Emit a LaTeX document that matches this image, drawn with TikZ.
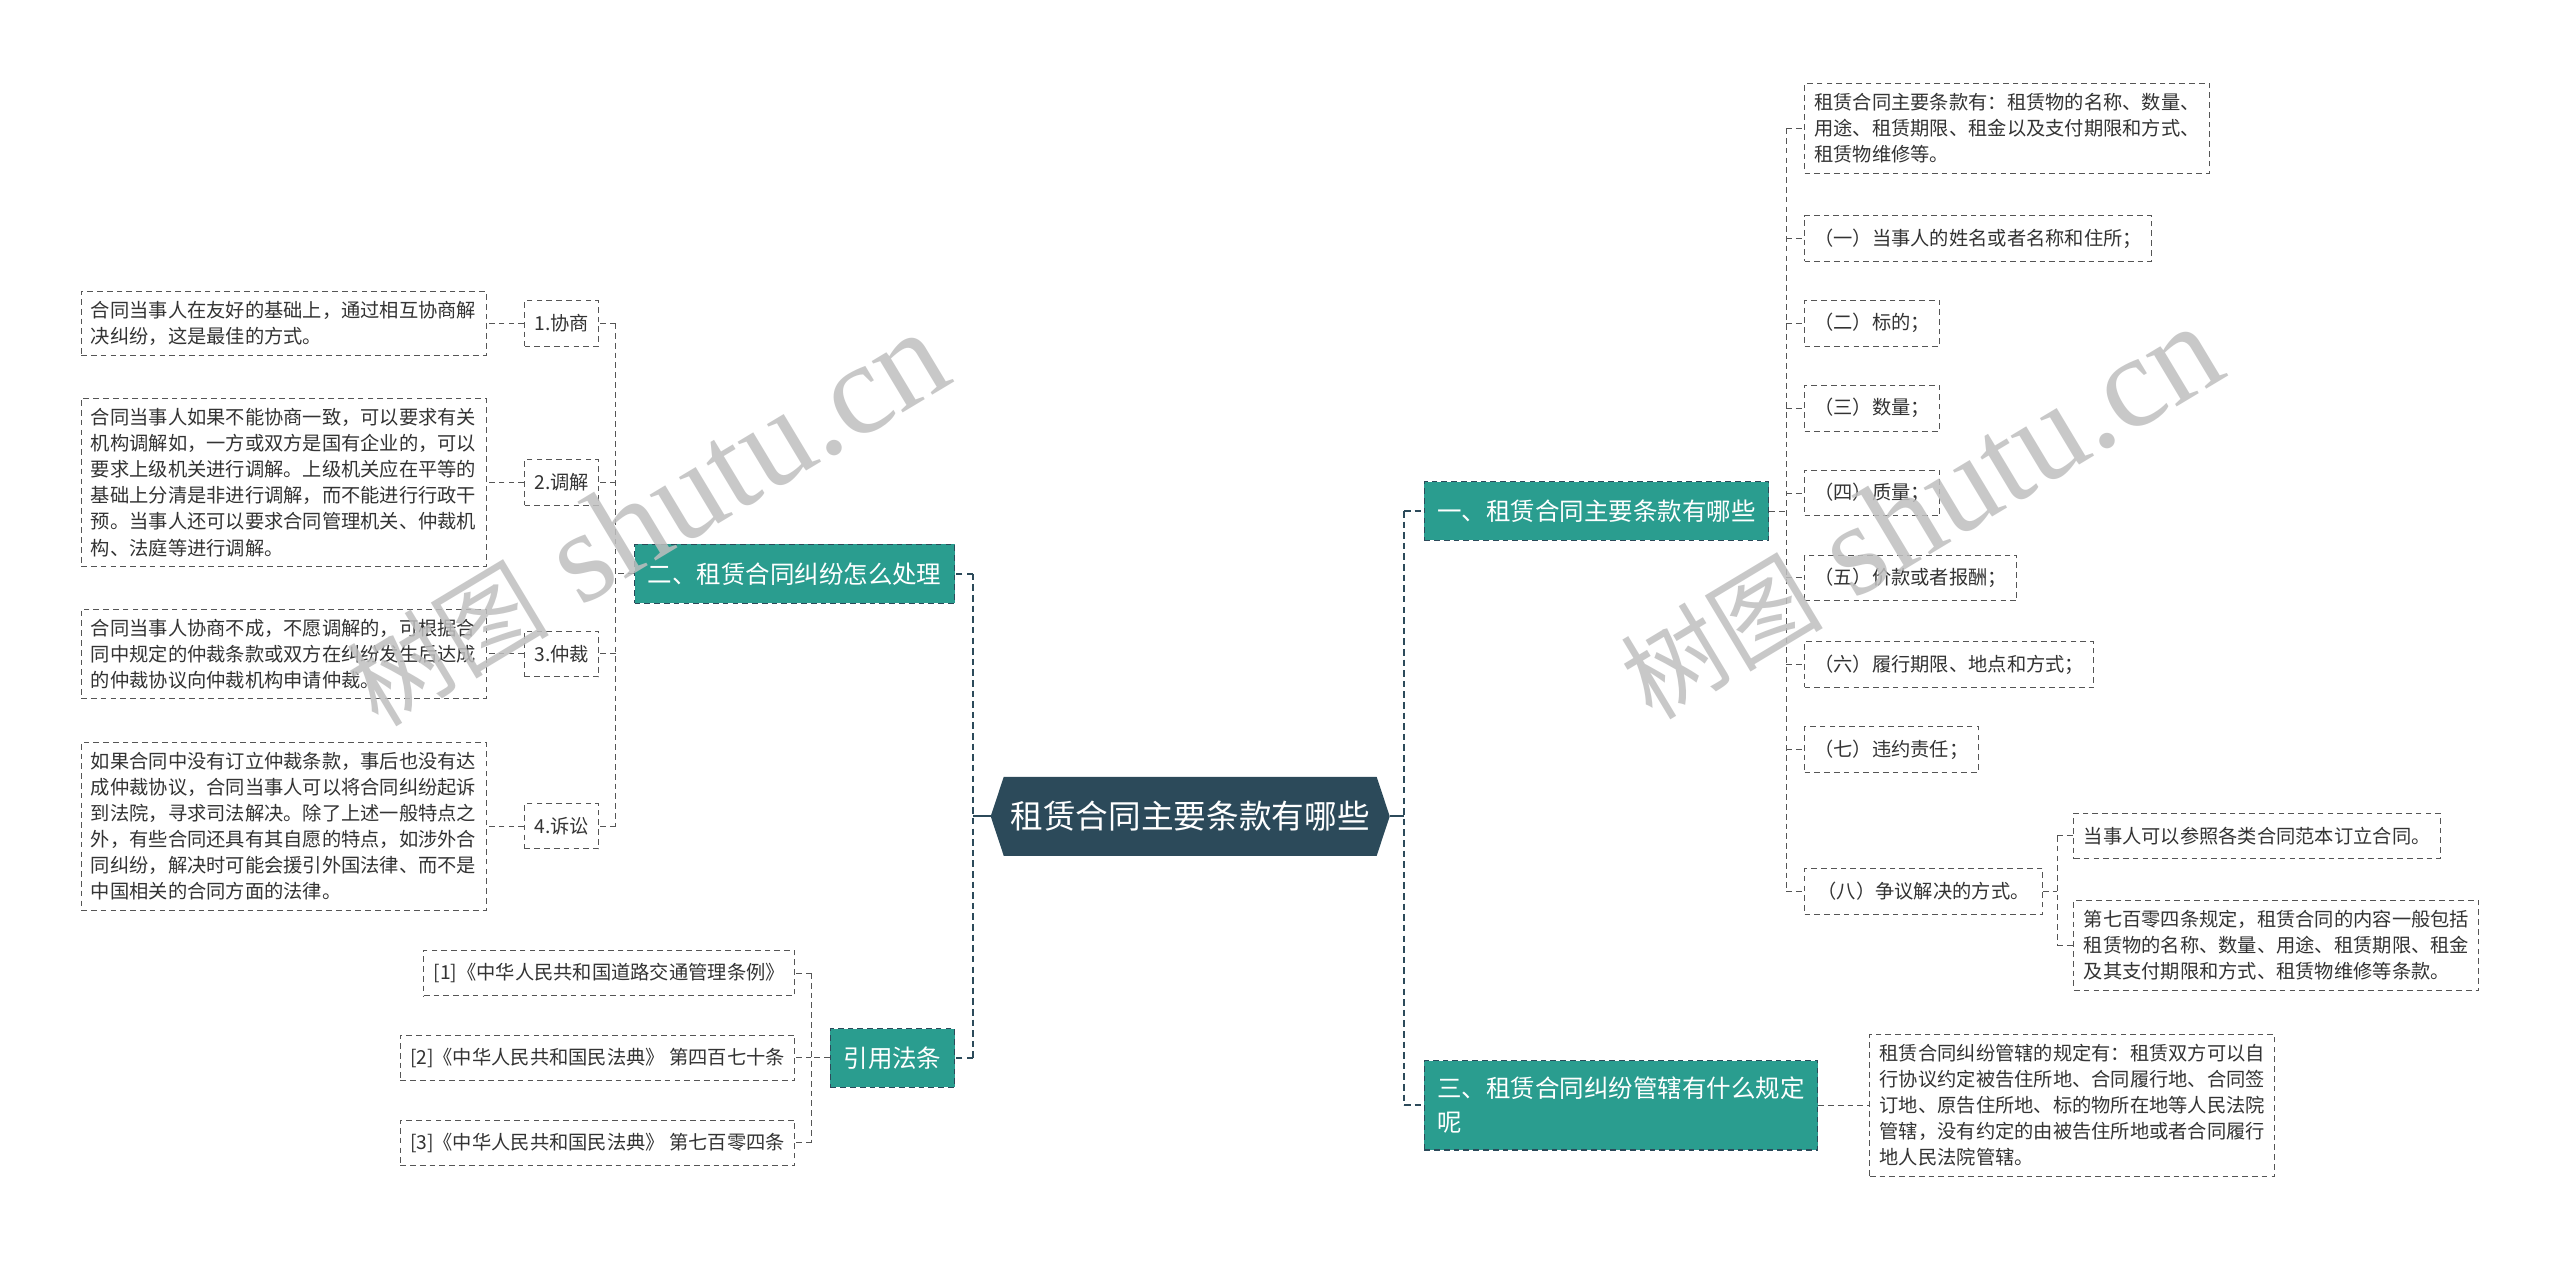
\documentclass[tikz,border=0pt]{standalone}
\usepackage{fontspec}
\setmainfont{Noto Sans CJK SC}
\newfontfamily\wmserif{Liberation Serif}
\usetikzlibrary{backgrounds}
\definecolor{hexc}{HTML}{2C4A5A}
\definecolor{tealc}{HTML}{2A9D8F}
\definecolor{linec}{HTML}{555555}
\definecolor{textc}{HTML}{333333}
\begin{document}
\begin{tikzpicture}[x=1pt,y=-1pt,
  dsh/.style={dash pattern=on 3.5pt off 2.5pt},
  leaf/.style={draw=linec, dsh, line width=0.6pt, fill=white, text=textc,
    font=\fontsize{11.8}{16}\selectfont, inner xsep=6pt, inner ysep=6pt,
    minimum height=28pt, align=left},
  branch/.style={draw=hexc, dsh, line width=0.7pt, fill=tealc, text=white,
    font=\fontsize{15}{21}\selectfont, inner xsep=8pt, minimum height=36pt, align=left},
  hexn/.style={text=white, font=\fontsize{20}{24}\selectfont,
    minimum width=244pt, minimum height=48pt, inner sep=0pt},
  conn/.style={draw=linec, dsh, line width=0.6pt},
  trunk/.style={draw=hexc, dash pattern=on 4pt off 2.5pt, line width=1.2pt},
  wmark/.style={rotate=31, text=black!25, opacity=0.85, inner sep=0pt},
]
\useasboundingbox (0,0) rectangle (1568,772.4);

% central
\node[hexn] (c) at (729,500) {租赁合同主要条款有哪些};

% right branches
\node[branch, anchor=west] (b1) at (872,313) {一、租赁合同主要条款有哪些};
\node[branch, anchor=west, inner ysep=10pt] (b3) at (872,677) {三、租赁合同纠纷管辖有什么规定\\呢};

\node[leaf, anchor=west] (r0) at (1105,78.5) {租赁合同主要条款有：租赁物的名称、数量、\\用途、租赁期限、租金以及支付期限和方式、\\租赁物维修等。};
\node[leaf, anchor=west] (r1) at (1105,146) {（一）当事人的姓名或者名称和住所；};
\node[leaf, anchor=west] (r2) at (1105,198) {（二）标的；};
\node[leaf, anchor=west] (r3) at (1105,250) {（三）数量；};
\node[leaf, anchor=west] (r4) at (1105,302) {（四）质量；};
\node[leaf, anchor=west] (r5) at (1105,354) {（五）价款或者报酬；};
\node[leaf, anchor=west] (r6) at (1105,407) {（六）履行期限、地点和方式；};
\node[leaf, anchor=west] (r7) at (1105,459) {（七）违约责任；};
\node[leaf, anchor=west, inner xsep=8pt] (r8) at (1105,546) {（八）争议解决的方式。};
\node[leaf, anchor=west] (r8a) at (1270,512) {当事人可以参照各类合同范本订立合同。};
\node[leaf, anchor=west] (r8b) at (1270,579) {第七百零四条规定，租赁合同的内容一般包括\\租赁物的名称、数量、用途、租赁期限、租金\\及其支付期限和方式、租赁物维修等条款。};
\node[leaf, anchor=west] (r9) at (1145,677) {租赁合同纠纷管辖的规定有：租赁双方可以自\\行协议约定被告住所地、合同履行地、合同签\\订地、原告住所地、标的物所在地等人民法院\\管辖，没有约定的由被告住所地或者合同履行\\地人民法院管辖。};

% left branches
\node[branch, anchor=east] (b2) at (585,351.5) {二、租赁合同纠纷怎么处理};
\node[branch, anchor=east] (b4) at (585,648) {引用法条};

\node[leaf, anchor=east] (l1) at (367,198) {1.协商};
\node[leaf, anchor=east] (l2) at (367,295.5) {2.调解};
\node[leaf, anchor=east] (l3) at (367,400.5) {3.仲裁};
\node[leaf, anchor=east] (l4) at (367,506) {4.诉讼};

\node[leaf, anchor=east] (d1) at (298,198) {合同当事人在友好的基础上，通过相互协商解\\决纠纷，这是最佳的方式。};
\node[leaf, anchor=east] (d2) at (298,295.5) {合同当事人如果不能协商一致，可以要求有关\\机构调解如，一方或双方是国有企业的，可以\\要求上级机关进行调解。上级机关应在平等的\\基础上分清是非进行调解，而不能进行行政干\\预。当事人还可以要求合同管理机关、仲裁机\\构、法庭等进行调解。};
\node[leaf, anchor=east] (d3) at (298,400.5) {合同当事人协商不成，不愿调解的，可根据合\\同中规定的仲裁条款或双方在纠纷发生后达成\\的仲裁协议向仲裁机构申请仲裁。};
\node[leaf, anchor=east] (d4) at (298,506) {如果合同中没有订立仲裁条款，事后也没有达\\成仲裁协议，合同当事人可以将合同纠纷起诉\\到法院，寻求司法解决。除了上述一般特点之\\外，有些合同还具有其自愿的特点，如涉外合\\同纠纷，解决时可能会援引外国法律、而不是\\中国相关的合同方面的法律。};

\node[leaf, anchor=east] (f1) at (487,596) {[1]《中华人民共和国道路交通管理条例》};
\node[leaf, anchor=east] (f2) at (487,648) {[2]《中华人民共和国民法典》 第四百七十条};
\node[leaf, anchor=east] (f3) at (487,700) {[3]《中华人民共和国民法典》 第七百零四条};

% background: white page and hexagon
\begin{scope}[on background layer]
  \fill[white] (0,0) rectangle (1568,772.4);
  \fill[hexc] (c.west) -- ([xshift=8pt]c.north west) -- ([xshift=-8pt]c.north east)
     -- (c.east) -- ([xshift=-8pt]c.south east) -- ([xshift=8pt]c.south west) -- cycle;
\end{scope}

% central connectors
\coordinate (jc) at ([xshift=-12pt]b1.west |- c.east);
\coordinate (jl) at ([xshift=11pt]b2.east |- c.west);
\draw[hexc, line width=1.2pt] (c.east) -- (jc);
\draw[hexc, line width=1.2pt] (c.west) -- (jl);
\draw[trunk] (jc |- b1.west) -- (jc |- b3.west);
\draw[trunk] (jc |- b1.west) -- (b1.west);
\draw[trunk] (jc |- b3.west) -- (b3.west);
\draw[trunk] (jl |- b2.east) -- (jl |- b4.east);
\draw[trunk] (jl |- b2.east) -- (b2.east);
\draw[trunk] (jl |- b4.east) -- (b4.east);

% branch one children
\coordinate (j1) at ([xshift=-11pt]r0.west |- b1.east);
\draw[conn] (b1.east) -- (j1);
\draw[conn] (j1 |- r0.west) -- (j1 |- r8.west);
\foreach \n in {r0,r1,r2,r3,r4,r5,r6,r7,r8}
  \draw[conn] (j1 |- \n.west) -- (\n.west);
\coordinate (j8) at ([xshift=-10pt]r8a.west |- r8.east);
\draw[conn] (r8.east) -- (j8);
\draw[conn] (j8 |- r8a.west) -- (j8 |- r8b.west);
\draw[conn] (j8 |- r8a.west) -- (r8a.west);
\draw[conn] (j8 |- r8b.west) -- (r8b.west);

% branch three child
\draw[conn] (b3.east) -- (r9.west);

% branch two children
\coordinate (j2) at ([xshift=10pt]l1.east |- b2.west);
\draw[conn] (b2.west) -- (j2);
\draw[conn] (j2 |- l1.east) -- (j2 |- l4.east);
\foreach \n in {l1,l2,l3,l4}
  \draw[conn] (j2 |- \n.east) -- (\n.east);
\draw[conn] (l1.west) -- (d1.east);
\draw[conn] (l2.west) -- (d2.east);
\draw[conn] (l3.west) -- (d3.east);
\draw[conn] (l4.west) -- (d4.east);

% references
\coordinate (j4) at ([xshift=10pt]f1.east |- b4.west);
\draw[conn] (b4.west) -- (j4);
\draw[conn] (j4 |- f1.east) -- (j4 |- f3.east);
\foreach \n in {f1,f2,f3}
  \draw[conn] (j4 |- \n.east) -- (\n.east);

% watermarks
\node[wmark] (w1) at (396,318) {{\fontsize{62}{62}\selectfont 树图}\hspace{20pt}{\wmserif\fontsize{80}{80}\selectfont shutu.cn}};
\node[wmark] (w2) at (1176,314) {{\fontsize{62}{62}\selectfont 树图}\hspace{20pt}{\wmserif\fontsize{80}{80}\selectfont shutu.cn}};
\end{tikzpicture}
\end{document}
